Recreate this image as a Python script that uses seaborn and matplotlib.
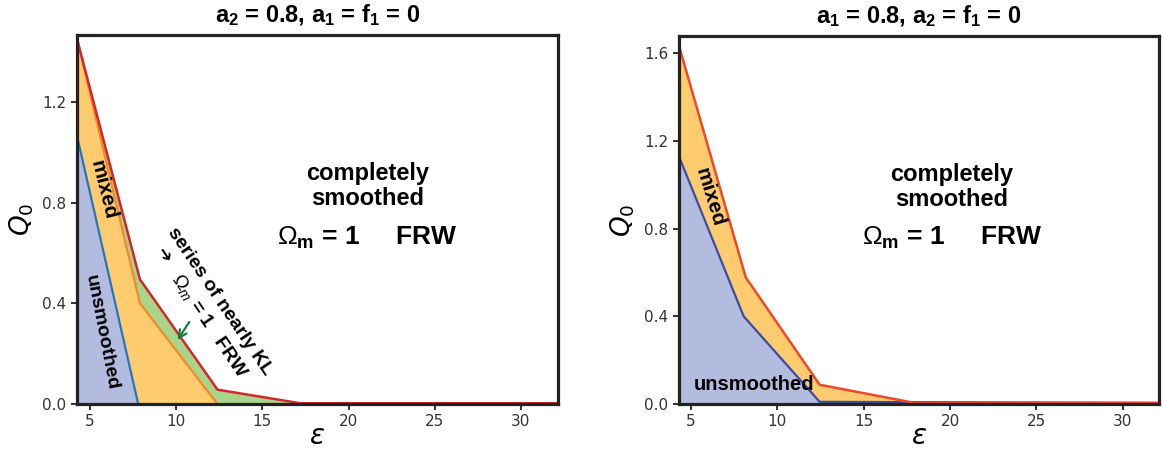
import numpy as np
import matplotlib
matplotlib.use("Agg")
import matplotlib.pyplot as plt
import seaborn as sns

# ---- data ----
# left panel: a2 = 0.8, a1 = f1 = 0
left_blue_eps = [4.25, 7.8]
left_blue_q = [1.065, 0.0]
left_orange_eps = [4.25, 7.9, 12.4]
left_orange_q = [1.45, 0.40, 0.0]
left_red_eps = [4.25, 7.9, 12.4, 17.2, 32.15]
left_red_q = [1.45, 0.495, 0.057, 0.003, 0.003]

# right panel: a1 = 0.8, a2 = f1 = 0
right_blue_eps = [4.3, 8.05, 12.45, 32.1]
right_blue_q = [1.13, 0.40, 0.01, 0.005]
right_red_eps = [4.3, 8.17, 12.45, 17.95, 32.1]
right_red_q = [1.635, 0.578, 0.088, 0.005, 0.005]

left_yticks = [0.0, 0.4, 0.8, 1.2]
right_yticks = [0.0, 0.4, 0.8, 1.2, 1.6]
xticks = [5, 10, 15, 20, 25, 30]

c_blue_fill = "#b3bbde"
c_orange_fill = "#fecb6f"
c_green_fill = "#a9d58b"

sns.set_theme(style="ticks")
plt.rcParams['font.family'] = ['Liberation Sans', 'DejaVu Sans']
plt.rcParams['mathtext.fontset'] = 'custom'
plt.rcParams['mathtext.rm'] = 'Liberation Sans'
plt.rcParams['mathtext.it'] = 'Liberation Sans:italic'
plt.rcParams['mathtext.bf'] = 'Liberation Sans:bold'
plt.rcParams['text.color'] = 'black'
plt.rcParams['axes.labelcolor'] = 'black'

fig = plt.figure(figsize=(11.63, 4.5), dpi=100)
ax1 = fig.add_axes([0.0662, 0.1022, 0.4136, 0.82])
ax2 = fig.add_axes([0.5838, 0.1022, 0.4127, 0.818])


def style_axes(ax, yticks, ylim, xlim):
    ax.set_xlim(*xlim)
    ax.set_ylim(*ylim)
    ax.set_xticks(xticks)
    ax.set_yticks(yticks)
    ax.set_yticklabels([f"{v:.1f}" for v in yticks])
    for s in ax.spines.values():
        s.set_linewidth(2.3)
        s.set_color("#222222")
        s.set_visible(True)
    ax.tick_params(direction="out", length=4, width=1.3, colors="#222222",
                   labelsize=11, labelcolor="#333333",
                   labelfontfamily="DejaVu Sans")
    ax.set_xlabel(r"$\varepsilon$", fontsize=20, labelpad=-4)
    ax.set_ylabel(r"$Q_0$", fontsize=19, labelpad=5)
    ax.xaxis.label.set_math_fontfamily("dejavusans")
    ax.yaxis.label.set_math_fontfamily("dejavusans")


# ---- left panel ----
ax1.fill_between(left_red_eps, left_red_q, 0, color=c_green_fill, lw=0)
ax1.fill_between(left_orange_eps, left_orange_q, 0, color=c_orange_fill, lw=0)
ax1.fill_between(left_blue_eps, left_blue_q, 0, color=c_blue_fill, lw=0)
sns.lineplot(x=left_blue_eps, y=left_blue_q, ax=ax1, color="#2477bd", lw=1.6)
sns.lineplot(x=left_orange_eps, y=left_orange_q, ax=ax1, color="#f3892b", lw=1.6)
sns.lineplot(x=left_red_eps, y=left_red_q, ax=ax1, color="#d7262b", lw=1.8)
style_axes(ax1, left_yticks, (0, 1.465), (4.25, 32.15))
ax1.set_title(r"a$_\mathbf{2}$ = 0.8, a$_\mathbf{1}$ = f$_\mathbf{1}$ = 0",
              fontsize=17, fontweight="bold", pad=9)

ax1.text(21.1, 0.865, "completely\nsmoothed", ha="center", va="center",
         fontsize=17, fontweight="bold", linespacing=1.15)
ax1.text(21.1, 0.66, r"$\Omega_\mathbf{m}$ = 1     FRW", ha="center", va="center",
         fontsize=19, fontweight="bold")
ax1.text(5.75, 0.851, "mixed", rotation=-76, ha="center", va="center",
         fontsize=15, fontweight="bold")
ax1.text(5.64, 0.283, "unsmoothed", rotation=-79, ha="center", va="center",
         fontsize=14, fontweight="bold")
ax1.text(12.55, 0.409, "series of nearly KL", rotation=-56, ha="center",
         va="center", fontsize=14, fontweight="bold")
ax1.text(11.95, 0.31, r"$\Omega_m$" + " = 1   FRW", rotation=-56,
         ha="center", va="center", fontsize=14, fontweight="bold")
ax1.text(9.3, 0.59, "\u2794", rotation=-56, ha="center", va="center",
         fontsize=13, family="DejaVu Sans", fontweight="bold")
ax1.annotate("", xy=(10.0, 0.245), xytext=(10.85, 0.335),
             arrowprops=dict(arrowstyle="->", color="#1b7a3c", lw=1.6,
                             mutation_scale=14))

# ---- right panel ----
ax2.fill_between(right_red_eps, right_red_q, 0, color=c_orange_fill, lw=0)
ax2.fill_between(right_blue_eps, right_blue_q, 0, color=c_blue_fill, lw=0)
sns.lineplot(x=right_blue_eps, y=right_blue_q, ax=ax2, color="#3a4d9e", lw=1.6)
sns.lineplot(x=right_red_eps, y=right_red_q, ax=ax2, color="#ee4a2a", lw=1.8)
style_axes(ax2, right_yticks, (0, 1.68), (4.3, 32.1))
ax2.set_title(r"a$_\mathbf{1}$ = 0.8, a$_\mathbf{2}$ = f$_\mathbf{1}$ = 0",
              fontsize=17, fontweight="bold", pad=9)

ax2.text(20.1, 0.99, "completely\nsmoothed", ha="center", va="center",
         fontsize=17, fontweight="bold", linespacing=1.15)
ax2.text(20.1, 0.756, r"$\Omega_\mathbf{m}$ = 1     FRW", ha="center", va="center",
         fontsize=19, fontweight="bold")
ax2.text(6.08, 0.945, "mixed", rotation=-73, ha="center", va="center",
         fontsize=15, fontweight="bold")
ax2.text(8.66, 0.088, "unsmoothed", ha="center", va="center",
         fontsize=14.5, fontweight="bold")

fig.savefig("out.png", dpi=100)
